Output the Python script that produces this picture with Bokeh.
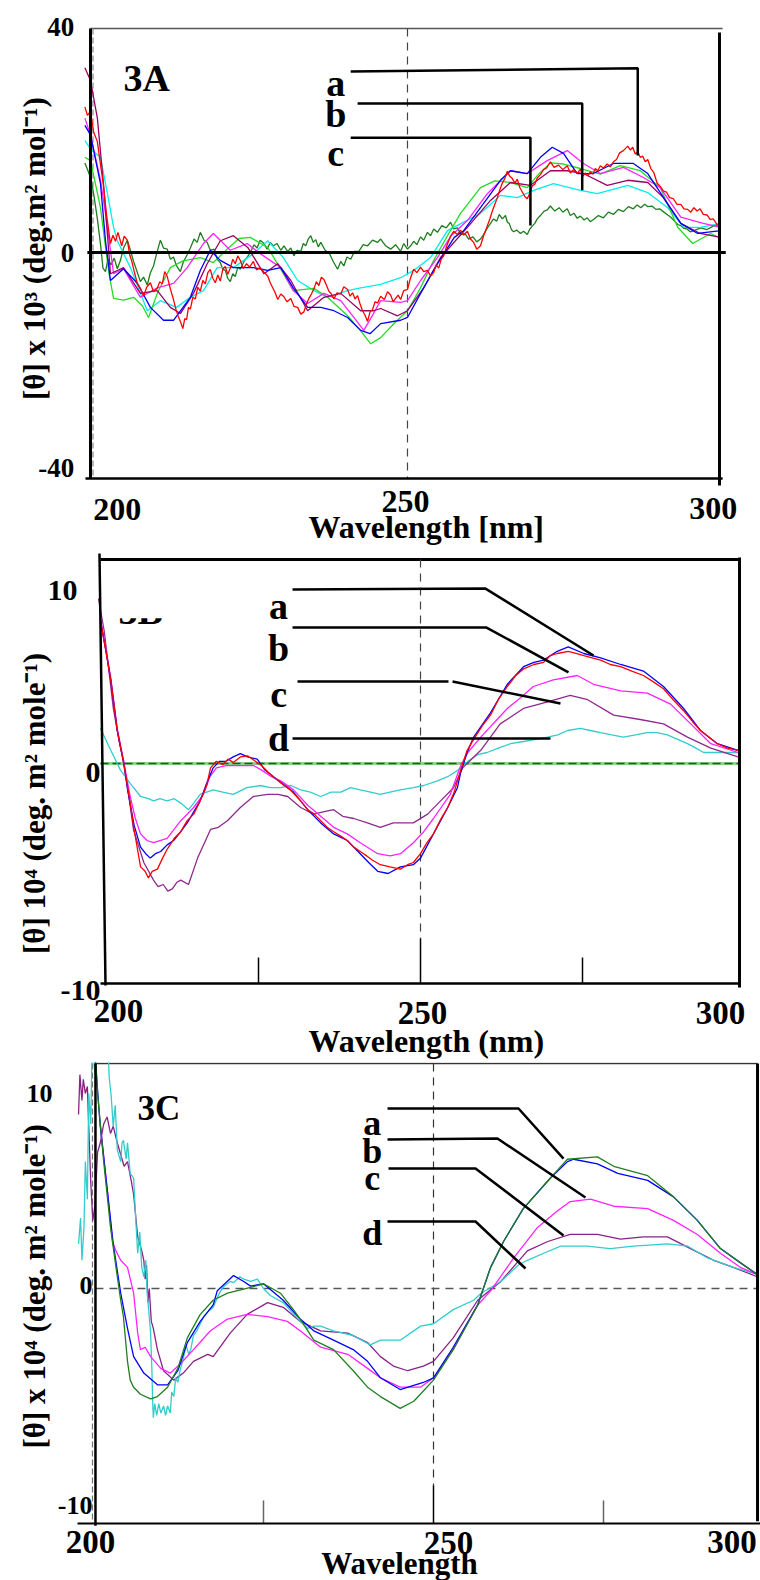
import math
from bokeh.plotting import figure
from bokeh.layouts import column
from bokeh.core.properties import value
from bokeh.embed import file_html
from bokeh.resources import INLINE

FONT = "Liberation Serif"

# ----------------------------------------------------------------- DATA
# Panel 3A : wavelength (nm), [theta] x 10^3
A_red = [(198.3,26.0),(198.7,24.5),(199.2,25.2),(199.7,21.5),(200.3,19.8),(200.7,16.5),(201.2,12.6),(201.8,6.5),(202.4,1.6),(202.8,3.1),(203.2,2.0),(203.6,3.6),(204.2,1.2),(204.6,2.9),(205.1,2.2),(205.5,-0.5),(205.8,-1.5),(206.3,-3.8),(206.7,-5.5),(207.2,-6.4),(207.7,-7.8),(208.2,-6.2),(208.8,-5.4),(209.3,-7.0),(209.9,-6.4),(210.3,-5.2),(210.7,-5.6),(211.1,-3.4),(211.5,-4.3),(212.0,-6.5),(212.5,-8.4),(212.9,-10.2),(213.3,-11.5),(213.7,-12.6),(214.0,-13.6),(214.3,-11.8),(214.6,-12.0),(214.9,-9.8),(215.2,-10.1),(215.6,-8.0),(216.0,-8.3),(216.4,-6.2),(216.8,-6.9),(217.2,-5.0),(217.6,-5.6),(218.0,-3.6),(218.4,-3.0),(218.8,-4.6),(219.2,-5.4),(219.6,-4.0),(220.0,-5.1),(220.4,-3.0),(220.8,-2.5),(221.2,-3.9),(221.6,-2.8),(222.0,-1.2),(222.4,-2.0),(222.8,-0.6),(223.2,-1.4),(223.7,-2.9),(224.2,-2.0),(224.7,-2.6),(225.3,-1.6),(225.8,-3.1),(226.4,-2.7),(227.0,-3.5),(227.6,-4.2),(228.0,-5.4),(228.4,-6.3),(228.8,-7.2),(229.2,-8.4),(229.7,-7.4),(230.2,-7.9),(230.7,-8.8),(231.3,-8.2),(231.8,-9.6),(232.4,-9.8),(232.9,-11.0),(233.4,-10.6),(233.8,-9.2),(234.2,-8.2),(234.6,-7.4),(235.0,-6.5),(235.4,-5.2),(235.8,-5.9),(236.2,-4.4),(236.6,-4.8),(237.0,-5.8),(237.4,-6.9),(237.8,-7.4),(238.2,-8.3),(238.7,-7.2),(239.3,-7.4),(239.8,-6.1),(240.4,-6.6),(240.8,-7.8),(241.2,-7.2),(241.6,-8.3),(242.0,-7.7),(242.4,-9.2),(242.8,-10.4),(243.2,-11.2),(243.6,-12.3),(244.0,-10.6),(244.4,-10.2),(244.8,-8.8),(245.2,-9.0),(245.7,-7.8),(246.3,-8.4),(246.8,-7.0),(247.3,-7.6),(247.7,-8.8),(248.1,-8.2),(248.5,-7.6),(248.9,-8.4),(249.4,-6.8),(250.0,-6.6),(250.5,-4.5),(251.0,-3.0),(251.5,-3.6),(252.1,-2.6),(252.6,-3.4),(253.2,-3.2),(253.7,-4.2),(254.2,-3.6),(254.6,-2.2),(255.0,-2.8),(255.4,-1.2),(255.8,-0.6),(256.3,1.2),(256.9,2.9),(257.4,3.8),(258.0,3.2),(258.5,4.0),(259.0,3.1),(259.6,3.8),(260.1,2.4),(260.6,1.8),(261.1,0.6),(261.7,1.2),(262.2,3.0),(262.8,4.8),(263.2,6.0),(263.6,7.4),(264.0,8.6),(264.4,9.8),(264.8,11.2),(265.2,12.4),(265.6,13.2),(266.0,14.5),(266.4,13.6),(266.8,13.2),(267.2,12.4),(267.6,13.1),(268.0,11.6),(268.4,10.8),(268.8,10.0),(269.2,9.6),(269.6,10.6),(270.0,11.9),(270.4,12.2),(270.8,13.3),(271.3,13.9),(271.8,14.8),(272.3,15.1),(272.9,16.2),(273.5,15.2),(274.2,15.6),(274.9,14.8),(275.6,15.5),(276.1,14.2),(276.6,14.8),(277.2,14.1),(277.7,14.9),(278.1,13.6),(278.5,14.2),(278.9,13.7),(279.3,14.4),(279.7,14.0),(280.1,15.0),(280.5,14.6),(280.9,15.5),(281.4,15.1),(282.0,15.8),(282.5,15.3),(283.0,16.2),(283.5,16.6),(284.0,17.8),(284.6,18.2),(285.3,19.0),(285.7,18.3),(286.1,18.8),(286.5,17.6),(286.9,18.0),(287.3,17.0),(287.7,17.2),(288.1,16.2),(288.5,16.6),(289.0,15.0),(289.5,14.2),(290.0,12.4),(290.5,11.8),(291.0,11.0),(291.5,10.8),(292.0,9.8),(292.6,9.6),(293.2,8.6),(293.8,8.6),(294.3,7.8),(294.9,7.7),(295.4,7.2),(295.9,8.0),(296.4,7.4),(296.9,7.8),(297.4,6.8),(298.0,6.7),(298.5,5.9),(299.0,6.0),(299.6,5.0),(300.2,4.6)]

A_darkgreen = [(198.3,16.0),(198.8,14.6),(199.3,13.0),(199.8,9.8),(200.3,6.0),(200.8,1.5),(201.2,-2.8),(201.6,-3.4),(202.0,-1.2),(202.5,-2.2),(203.0,-1.0),(203.5,-2.9),(204.0,-1.4),(204.5,0.8),(205.1,2.2),(205.6,0.4),(206.1,-1.6),(206.6,-3.2),(207.2,-5.2),(207.7,-4.4),(208.3,-5.8),(208.8,-3.6),(209.3,-2.4),(209.8,-0.2),(210.4,2.2),(210.9,0.8),(211.5,0.6),(212.0,-1.2),(212.5,-0.8),(213.0,-2.4),(213.6,-3.4),(214.1,-1.6),(214.7,-0.4),(215.2,0.8),(215.8,2.4),(216.3,1.8),(216.8,3.6),(217.4,2.2),(217.9,1.8),(218.4,0.4),(219.0,0.6),(219.5,-1.2),(220.0,-1.8),(220.4,-3.0),(220.8,-3.2),(221.2,-4.6),(221.6,-5.2),(222.0,-3.8),(222.4,-4.3),(222.8,-2.6),(223.2,-3.0),(223.8,-1.6),(224.4,-0.7),(224.9,0.2),(225.4,1.4),(225.9,0.8),(226.4,2.2),(227.0,1.6),(227.5,0.6),(228.0,1.8),(228.5,1.2),(229.1,1.6),(229.7,0.4),(230.2,1.2),(230.8,0.2),(231.3,0.8),(231.8,-0.6),(232.3,0.4),(232.9,0.2),(233.3,1.6),(233.7,1.2),(234.1,2.4),(234.5,3.0),(234.9,1.8),(235.3,2.3),(235.7,1.0),(236.1,1.8),(236.8,0.4),(237.5,-0.2),(238.1,-1.6),(238.8,-3.0),(239.3,-1.6),(239.8,-2.4),(240.3,-0.8),(240.9,-1.2),(241.5,0.2),(242.2,0.2),(242.9,1.4),(243.6,1.2),(244.4,2.2),(245.2,1.8),(245.7,2.4),(246.5,1.2),(247.3,0.6),(248.1,1.4),(248.9,0.2),(249.4,1.6),(250.0,0.6),(250.5,1.2),(251.0,2.0),(251.5,1.4),(252.1,2.8),(252.6,2.2),(253.2,3.6),(253.7,3.0),(254.2,4.2),(254.8,3.6),(255.5,4.8),(256.2,4.4),(256.9,5.4),(257.4,4.2),(258.0,4.4),(258.6,3.2),(259.2,3.4),(259.8,2.4),(260.5,2.8),(261.1,1.9),(261.7,2.4),(262.2,3.2),(262.8,4.4),(263.3,5.2),(263.8,6.0),(264.3,5.6),(264.7,6.8),(265.2,6.0),(265.7,6.6),(266.0,5.4),(266.3,5.2),(266.7,4.0),(267.0,3.7),(267.5,4.0),(268.1,3.4),(268.6,3.8),(269.2,3.2),(269.6,4.2),(270.0,4.7),(270.4,5.2),(270.8,6.0),(271.3,6.6),(271.9,7.4),(272.4,7.6),(272.9,8.3),(273.6,7.4),(274.3,8.0),(274.9,7.2),(275.6,7.8),(276.1,6.6),(276.7,7.0),(277.2,6.1),(277.7,6.5),(278.3,5.8),(278.8,6.2),(279.3,5.5),(279.8,5.9),(280.6,6.6),(281.4,6.2),(282.2,7.2),(283.0,6.8),(283.8,7.7),(284.6,7.3),(285.4,8.2),(286.2,7.8),(286.8,8.5),(287.4,8.0),(288.0,8.6),(288.5,8.2),(289.2,8.3),(289.8,7.7),(290.4,7.8),(291.0,7.3),(291.6,6.8),(292.2,6.3),(292.8,5.6),(293.3,5.0),(293.8,4.8),(294.3,4.3),(294.8,4.2),(295.3,3.7),(296.1,4.0),(297.0,4.4),(298.0,4.1),(299.0,4.7),(299.6,4.9),(300.2,5.6)]

A_blue = [(198.3,22.7),(199.2,21.0),(200.8,12.3),(201.6,2.1),(202.4,-5.0),(204.5,-2.9),(206.7,-5.5),(208.8,-9.8),(210.9,-12.1),(212.5,-12.1),(215.2,-8.0),(216.8,-3.2),(218.4,0.4),(220.0,-1.4),(222.1,-2.7),(225.3,-2.7),(227.6,-3.2),(229.7,-2.7),(231.7,-6.3),(234.0,-9.8),(236.1,-9.8),(238.2,-10.4),(240.4,-11.6),(242.5,-13.9),(244.0,-14.5),(245.7,-12.7),(248.9,-12.1),(250.0,-11.6),(252.1,-7.3),(254.8,-2.0),(257.5,2.7),(259.0,3.9),(261.7,8.0),(264.9,12.9),(266.5,14.6),(269.2,14.1),(271.3,17.0),(273.2,18.8),(275.0,17.7),(277.2,14.1),(279.8,14.1),(283.0,15.9),(286.2,15.9),(288.5,14.1),(291.7,8.7),(293.8,5.2),(296.5,3.4),(300.2,3.9)]

A_magenta = [(198.3,24.0),(199.2,21.0),(200.8,12.9),(201.6,7.0),(202.9,-3.8),(204.5,-2.9),(207.2,-8.0),(209.9,-6.3),(212.5,-5.5),(214.7,-2.7),(217.3,1.6),(218.9,3.4),(221.6,0.4),(224.3,1.6),(226.4,-0.2),(229.7,-2.7),(231.7,-6.8),(234.0,-9.1),(236.6,-7.3),(239.3,-8.6),(241.4,-11.6),(243.0,-13.9),(244.5,-11.0),(245.7,-8.6),(248.9,-8.9),(250.0,-8.6),(252.1,-5.0),(254.8,-0.9),(257.0,3.0),(259.6,5.7),(262.8,10.5),(266.5,14.6),(269.2,14.1),(272.4,16.4),(275.6,18.2),(278.2,15.9),(280.9,14.1),(284.6,15.2),(287.8,13.4),(290.5,11.6),(293.8,6.3),(297.4,5.2),(300.2,4.5)]

A_purple = [(198.3,33.0),(199.2,30.7),(200.3,24.0),(201.3,12.0),(202.4,-3.8),(204.5,-2.7),(207.2,-7.3),(209.9,-6.8),(212.0,-9.8),(213.6,-10.9),(215.7,-7.3),(217.9,-2.0),(220.0,2.1),(222.1,3.0),(224.4,0.9),(227.0,-3.8),(229.2,-2.0),(231.3,-5.0),(234.0,-10.4),(236.6,-8.0),(239.3,-7.3),(242.5,-10.4),(244.6,-10.4),(245.7,-10.0),(248.4,-11.3),(250.0,-10.4),(252.6,-6.3),(255.3,-0.9),(259.6,4.5),(263.3,9.3),(266.5,12.5),(269.7,12.0),(272.9,14.6),(275.6,14.6),(278.2,14.1),(282.0,12.0),(285.3,12.9),(288.5,12.5),(291.0,9.8),(293.8,5.2),(296.9,3.4),(300.2,2.7)]

A_cyan = [(198.3,20.0),(199.2,18.5),(200.8,17.0),(202.0,10.0),(202.9,4.5),(203.5,2.1),(205.6,-2.7),(208.3,-10.4),(210.4,-8.6),(213.0,-9.8),(215.2,-8.0),(217.3,-6.8),(219.5,-2.7),(222.1,-2.7),(225.3,-0.2),(227.6,2.1),(230.1,-0.9),(232.4,-5.0),(235.0,-6.8),(237.2,-8.0),(240.4,-6.8),(242.5,-6.3),(245.7,-5.7),(248.9,-4.5),(251.0,-3.2),(253.7,-0.9),(256.4,3.9),(257.4,4.5),(261.7,7.0),(264.9,10.2),(267.6,9.8),(270.2,11.1),(273.4,12.3),(277.7,11.1),(280.4,10.5),(285.3,12.0),(288.5,10.7),(291.7,8.0),(294.3,4.5),(296.9,4.5),(300.2,5.2)]

A_green = [(198.3,17.0),(199.2,16.4),(200.8,8.0),(201.6,1.0),(202.2,-4.0),(202.9,-8.2),(204.5,-8.5),(206.1,-8.0),(207.5,-9.5),(208.5,-11.6),(210.0,-7.0),(212.0,-2.7),(214.0,-1.5),(216.8,-0.9),(218.9,-1.8),(221.0,0.5),(223.0,2.5),(224.8,2.7),(227.6,0.9),(229.7,-3.0),(231.7,-6.8),(235.0,-6.4),(237.2,-8.0),(240.4,-11.3),(242.5,-14.0),(244.1,-16.3),(245.7,-15.2),(248.0,-12.5),(250.0,-10.4),(252.0,-6.5),(254.2,-1.4),(256.4,3.0),(258.5,7.0),(261.7,11.6),(264.0,12.8),(266.5,12.5),(269.2,11.6),(271.0,14.0),(272.9,16.0),(275.0,15.8),(277.7,15.0),(280.9,14.0),(284.1,15.5),(287.3,14.6),(290.5,11.6),(293.3,4.5),(295.7,1.6),(298.6,3.4),(300.2,2.5)]

A_xticks = [200, 250, 300]
A_yticks = [40, 0, -40]

# Panel 3B : wavelength (nm), [theta] x 10^4
B_red = [(200.6,6.5),(201.4,5.2),(202.2,3.8),(203.2,1.5),(204.2,0.0),(205.2,-1.8),(205.8,-3.0),(206.8,-4.7),(207.5,-4.9),(208.0,-5.2),(208.6,-4.9),(209.4,-4.8),(210.2,-4.3),(210.9,-3.9),(212.0,-3.4),(213.0,-3.1),(214.0,-2.6),(215.0,-2.3),(216.0,-1.7),(217.0,-1.0),(217.6,-0.2),(218.5,0.1),(219.5,-0.05),(220.3,0.2),(221.1,0.05),(222.2,0.3),(223.3,0.35),(224.3,0.15),(225.5,-0.1),(226.5,-0.4),(227.3,-0.6),(228.5,-0.9),(229.9,-1.2),(231.2,-1.6),(232.6,-2.1),(233.6,-2.3),(234.6,-2.6),(235.6,-2.9),(236.6,-3.1),(237.7,-3.3),(238.7,-3.5),(239.7,-3.8),(240.7,-4.0),(241.7,-4.2),(242.6,-4.4),(243.8,-4.6),(245.3,-4.7),(246.9,-4.8),(248.0,-4.6),(248.9,-4.5),(250.0,-4.1),(251.0,-3.6),(252.0,-3.2),(253.0,-2.6),(254.2,-2.0),(255.2,-1.3),(256.2,-0.3),(257.2,0.6),(258.2,1.1),(259.5,1.7),(260.8,2.2),(262.0,2.9),(263.4,3.5),(264.7,4.0),(265.9,4.3),(267.5,4.5),(269.0,4.6),(270.0,4.9),(271.1,5.0),(272.8,5.1),(274.0,5.0),(275.2,4.9),(276.5,4.8),(277.8,4.7),(279.3,4.5),(280.9,4.4),(282.6,4.2),(284.4,4.0),(286.0,3.7),(287.5,3.4),(289.0,2.9),(290.6,2.4),(292.0,1.9),(293.2,1.5),(294.5,1.2),(295.8,0.9),(297.4,0.7),(299.0,0.6)]

B_blue = [(200.6,6.5),(201.4,5.2),(202.2,3.8),(203.2,1.5),(204.2,0.0),(204.8,-1.2),(205.8,-2.8),(206.8,-3.8),(207.6,-4.1),(208.3,-4.3),(209.1,-4.1),(209.9,-4.0),(210.9,-3.7),(211.9,-3.5),(213.0,-3.1),(214.0,-2.7),(215.0,-2.2),(216.0,-1.7),(217.0,-0.9),(218.0,-0.2),(219.0,0.1),(220.0,0.1),(221.1,0.3),(222.2,0.45),(223.3,0.3),(224.8,0.2),(226.0,-0.3),(227.3,-0.6),(228.6,-0.9),(230.4,-1.3),(232.6,-2.1),(234.6,-2.7),(236.6,-3.2),(238.7,-3.5),(240.7,-4.1),(242.0,-4.5),(243.4,-4.9),(245.0,-5.0),(246.9,-4.7),(248.9,-4.6),(250.0,-4.3),(252.0,-3.2),(254.2,-2.0),(255.7,-1.1),(256.2,-0.4),(257.2,0.5),(258.2,1.2),(260.8,2.3),(263.4,3.6),(265.9,4.4),(267.5,4.6),(269.0,4.7),(271.1,5.1),(272.8,5.3),(275.2,5.0),(277.8,4.8),(280.9,4.5),(284.4,4.2),(287.5,3.5),(290.6,2.5),(293.2,1.5),(295.8,0.9),(299.0,0.6)]

B_magenta = [(200.6,6.6),(201.4,5.3),(202.2,3.9),(203.2,1.6),(204.2,0.1),(205.2,-1.5),(206.0,-2.5),(206.8,-3.2),(207.8,-3.5),(208.8,-3.6),(210.9,-3.4),(213.0,-2.6),(215.0,-2.0),(216.5,-1.4),(217.5,-0.6),(218.5,-0.2),(220.0,-0.1),(222.0,-0.1),(224.3,-0.1),(225.5,-0.3),(227.0,-0.6),(228.5,-0.8),(230.4,-1.2),(232.6,-1.9),(234.6,-2.4),(236.6,-2.9),(238.7,-3.2),(240.7,-3.6),(243.4,-4.1),(245.3,-4.2),(246.9,-4.1),(248.9,-3.6),(250.5,-3.1),(252.0,-2.5),(254.6,-1.4),(256.2,-0.1),(257.3,0.5),(259.3,1.2),(261.5,1.9),(263.4,2.5),(265.5,3.0),(267.4,3.5),(270.5,3.8),(274.2,4.0),(276.7,3.6),(280.9,3.3),(285.0,3.2),(288.6,2.7),(291.7,1.8),(294.8,0.9),(299.0,0.5)]

B_purple = [(200.3,7.5),(201.2,6.0),(202.6,2.5),(203.5,1.0),(204.2,0.1),(205.0,-1.5),(205.7,-3.0),(207.3,-4.5),(208.8,-5.3),(209.5,-5.6),(210.3,-5.5),(211.0,-5.8),(211.7,-5.7),(212.4,-5.4),(213.0,-5.3),(214.2,-5.5),(215.6,-4.3),(217.6,-3.0),(218.8,-2.9),(220.2,-2.6),(222.2,-2.0),(224.2,-1.5),(226.4,-1.4),(228.0,-1.4),(229.5,-1.5),(231.5,-2.0),(233.5,-2.3),(235.0,-2.2),(236.6,-2.1),(238.0,-2.4),(239.7,-2.5),(241.8,-2.7),(243.8,-2.9),(245.8,-2.7),(248.9,-2.7),(251.1,-2.3),(253.1,-1.7),(255.1,-1.1),(256.5,-0.2),(259.3,0.6),(262.3,1.8),(265.9,2.5),(269.6,2.8),(273.1,3.1),(275.8,2.9),(279.8,2.2),(283.9,2.0),(287.5,1.8),(291.2,1.2),(294.8,0.7),(299.0,0.3)]

B_cyan = [(200.6,1.6),(201.4,1.1),(202.2,0.6),(203.7,-0.3),(205.2,-0.9),(206.8,-1.5),(208.0,-1.6),(208.8,-1.7),(209.8,-1.6),(210.9,-1.7),(212.0,-1.6),(213.0,-1.8),(214.2,-2.1),(215.0,-1.8),(216.0,-1.4),(218.0,-1.2),(219.5,-1.3),(221.1,-1.4),(223.2,-1.1),(225.3,-1.0),(226.8,-1.1),(228.4,-1.1),(230.0,-1.0),(231.5,-1.2),(233.0,-1.3),(234.6,-1.5),(236.2,-1.3),(237.7,-1.3),(239.2,-1.1),(240.7,-1.2),(242.3,-1.3),(243.8,-1.4),(245.3,-1.3),(246.9,-1.2),(248.9,-1.1),(250.5,-1.0),(252.5,-0.8),(254.2,-0.6),(255.8,-0.3),(257.3,0.1),(258.8,0.4),(260.3,0.5),(262.0,0.7),(263.9,0.9),(265.9,1.0),(267.8,1.1),(269.6,1.2),(271.2,1.3),(272.7,1.5),(274.7,1.6),(276.2,1.5),(277.8,1.4),(279.5,1.3),(281.3,1.2),(283.2,1.3),(285.0,1.4),(286.5,1.4),(288.1,1.3),(289.7,1.1),(291.2,0.9),(292.5,0.7),(293.7,0.5),(295.2,0.5),(296.8,0.5),(299.0,0.5)]

B_xticks = [200, 250, 300]
B_yticks = [10, 0, -10]
B_minor = [225, 250, 275]

# Panel 3C : wavelength (nm), [theta] x 10^4
C_green = [(200.0,11.5),(200.6,8.3),(201.5,5.4),(202.5,2.6),(203.5,0.5),(204.0,-0.5),(204.4,-1.2),(205.0,-3.1),(205.4,-3.9),(205.9,-4.2),(206.9,-4.5),(208.4,-4.7),(209.4,-4.6),(210.9,-4.2),(212.4,-3.4),(213.8,-2.1),(215.7,-1.1),(217.6,-0.5),(219.7,-0.2),(223.1,0.05),(225.0,0.2),(227.5,-0.2),(229.4,-0.9),(230.4,-1.3),(232.4,-2.2),(235.3,-2.6),(238.2,-3.5),(240.3,-4.2),(242.2,-4.6),(245.1,-5.1),(247.1,-4.8),(250.0,-3.9),(252.9,-2.6),(256.5,-0.7),(258.4,0.9),(260.3,2.0),(263.2,3.4),(267.2,4.7),(269.7,5.5),(274.1,5.6),(276.5,5.2),(281.5,4.8),(285.3,3.9),(288.8,2.9),(292.2,1.7),(295.1,1.1),(297.6,0.6)]

C_blue = [(199.8,11.5),(201.0,6.9),(202.1,4.0),(202.9,1.9),(204.0,-0.2),(205.0,-1.7),(205.9,-2.9),(207.4,-3.6),(209.4,-4.1),(210.9,-4.1),(212.4,-3.5),(213.8,-2.3),(215.7,-1.4),(217.6,-0.7),(218.2,-0.1),(220.6,0.55),(222.1,0.3),(223.1,0.1),(225.0,0.2),(227.9,-0.5),(230.4,-1.3),(232.4,-1.8),(235.3,-2.2),(238.2,-2.6),(240.3,-3.1),(242.2,-3.8),(245.1,-4.3),(248.5,-4.0),(250.0,-3.8),(252.9,-2.5),(256.5,-0.7),(258.4,0.9),(260.3,2.0),(263.2,3.4),(267.2,4.7),(269.7,5.4),(270.6,5.5),(274.1,5.3),(277.1,4.9),(281.5,4.6),(285.3,3.9),(288.8,2.9),(292.2,1.7),(295.1,1.1),(297.6,0.6)]

C_magenta = [(201.0,7.0),(202.1,4.0),(202.8,2.0),(203.3,1.6),(204.0,1.2),(205.0,0.9),(205.9,-0.2),(206.5,-1.9),(206.9,-2.6),(207.6,-2.5),(208.4,-2.9),(209.9,-3.4),(211.3,-3.6),(212.8,-3.2),(214.7,-2.6),(217.2,-1.8),(219.7,-1.3),(222.6,-1.1),(225.6,-1.2),(228.5,-1.4),(230.4,-1.8),(233.4,-2.5),(237.4,-2.8),(240.3,-3.4),(242.2,-3.8),(245.1,-4.2),(248.1,-4.2),(250.0,-3.8),(252.9,-2.6),(256.5,-0.7),(258.4,-0.1),(261.8,1.3),(265.3,2.6),(268.2,3.3),(270.1,3.7),(273.1,3.8),(276.5,3.5),(281.5,3.4),(285.3,2.9),(288.8,2.3),(292.2,1.5),(295.1,0.9),(297.6,0.6)]

C_purple = [(197.8,7.4),(198.0,9.1),(198.3,8.0),(198.5,8.9),(198.8,8.3),(199.1,8.6),(199.3,6.9),(199.6,4.5),(199.9,2.9),(200.2,3.5),(200.6,5.8),(201.0,6.2),(201.5,7.0),(202.0,7.3),(202.5,6.6),(202.9,6.9),(203.5,6.2),(204.0,5.7),(204.5,5.2),(205.0,5.4),(205.6,4.5),(205.9,4.0),(206.3,2.8),(206.5,2.2),(207.1,1.6),(207.4,1.2),(207.6,0.4),(207.8,1.0),(208.0,-0.6),(208.2,0.0),(208.5,-1.4),(208.8,-1.7),(209.4,-2.6),(210.3,-3.5),(211.8,-3.9),(213.2,-3.6),(214.7,-3.1),(216.8,-2.8),(217.6,-2.9),(220.1,-1.9),(222.6,-1.1),(225.6,-0.6),(227.9,-0.8),(230.4,-1.4),(233.4,-1.8),(237.4,-1.9),(240.3,-2.3),(242.2,-2.9),(244.1,-3.3),(246.2,-3.5),(248.5,-3.3),(250.0,-3.1),(252.9,-2.1),(256.5,-0.5),(259.9,0.3),(263.8,1.6),(266.8,2.0),(270.1,2.3),(274.1,2.3),(277.5,2.1),(280.9,2.2),(284.4,2.2),(287.8,1.7),(291.2,1.2),(294.1,0.9),(297.6,0.5)]

C_cyan = [(197.8,1.9),(198.1,3.0),(198.3,1.2),(198.6,2.6),(198.8,5.4),(199.1,3.8),(199.3,8.3),(199.6,7.0),(199.8,10.5),(200.2,9.2),(200.5,11.0),(200.8,10.2),(201.2,12.0),(201.6,10.6),(202.0,11.4),(202.3,9.0),(202.6,8.2),(202.9,6.9),(203.2,7.8),(203.5,5.9),(204.0,5.4),(204.2,6.2),(204.4,6.3),(204.8,5.5),(205.0,6.2),(205.4,4.9),(205.9,4.7),(206.2,3.0),(206.5,1.5),(206.8,2.4),(207.1,0.9),(207.4,0.5),(207.7,1.2),(207.9,-0.2),(208.2,-1.2),(208.4,-1.9),(208.6,-3.6),(208.7,-4.8),(208.8,-5.5),(209.0,-4.9),(209.3,-5.4),(209.6,-4.9),(209.9,-5.3),(210.3,-5.0),(210.6,-5.4),(210.9,-5.0),(211.3,-5.3),(211.5,-4.4),(211.8,-4.6),(212.1,-3.8),(212.4,-4.0),(212.8,-3.4),(213.2,-3.0),(213.6,-2.4),(214.0,-2.8),(214.3,-2.6),(214.7,-2.0),(215.2,-1.8),(215.7,-1.5),(216.2,-1.2),(216.8,-1.0),(217.6,-0.8),(218.5,-0.2),(219.2,0.1),(220.1,0.3),(220.6,0.25),(221.5,0.5),(222.1,0.4),(223.1,0.3),(224.1,0.4),(225.0,0.0),(226.0,-0.3),(227.9,-0.6),(230.4,-1.4),(231.5,-1.7),(232.4,-1.6),(233.4,-1.6),(235.3,-1.8),(238.2,-2.0),(240.7,-2.4),(242.2,-2.2),(245.1,-2.2),(248.1,-1.6),(250.0,-1.5),(252.9,-0.9),(255.9,-0.5),(257.0,-0.2),(259.9,0.3),(262.5,1.0),(263.8,1.2),(266.2,1.5),(268.7,1.8),(272.6,1.8),(276.0,1.7),(279.4,1.8),(284.4,1.9),(287.4,1.8),(290.3,1.3),(294.1,0.9),(297.6,0.6)]

C_xticks = [200, 250, 300]
C_yticks = [10, 0, -10]
C_minor = [225, 250, 275]

# ------------------------------------------------------------ HELPERS
def make(height, xr, yr):
    p = figure(width=760, height=height, x_range=xr, y_range=yr,
               output_backend="svg", toolbar_location=None,
               x_axis_location=None, y_axis_location=None, min_border=0)
    p.grid.visible = False
    p.outline_line_color = None
    p.background_fill_color = "white"
    p.border_fill_color = "white"
    return p


def curve(p, pts, color, width=1.3):
    p.line([a for a, b in pts], [b for a, b in pts], line_color=color, line_width=width)


def txt(p, x, y, s, size, align="center", baseline="middle", angle=0.0):
    p.text(x=[x], y=[y], text=[s], text_font=value(FONT), text_font_size=value(f"{size}px"),
           text_font_style="bold", text_align=align, text_baseline=baseline,
           angle=angle, text_color="black")


def seg(p, xs, ys, color="black", width=2.5, dash="solid"):
    p.line(xs, ys, line_color=color, line_width=width, line_dash=dash)


# ------------------------------------------------------------ PANEL A
pA = make(545, (184.777, 306.572), (-52.32, 45.0))
seg(pA, [199.2, 300.5], [40, 40], "#555555", 1.5)
seg(pA, [250, 250], [40, -40.36], "#444444", 1.2, "8 6")
seg(pA, [199.6, 199.6], [40, -40.36], "#888888", 1.2, "6 3")
for pts, col in [(A_darkgreen, "#1e7d1e"), (A_cyan, "#00eeee"), (A_green, "#22dd22"),
                 (A_magenta, "#ff22ff"), (A_purple, "#990066"), (A_blue, "#0000ff"),
                 (A_red, "#ff0000")]:
    curve(pA, pts, col)
seg(pA, [199.2, 199.2], [40, -40.36], "black", 3)
seg(pA, [198.7, 301.0], [0, 0], "black", 3)
seg(pA, [198.4, 300.5], [-40.36, -40.36], "black", 2.5)
seg(pA, [300, 300], [39.3, -41.6], "black", 3)
A_leaders = {"a": ([240.9, 286.9, 286.9], [32.3, 32.9, 17.3]),
             "b": ([242.0, 278.0, 278.0], [26.6, 26.6, 11.1]),
             "c": ([240.9, 269.7, 269.7], [20.5, 20.5, 4.8])}
A_letter_y = {"a": 30.2, "b": 24.8, "c": 17.7}
for k, (xs, ys) in A_leaders.items():
    seg(pA, xs, ys, "black", 2.5)
    txt(pA, 238.5, A_letter_y[k], k, 38, "center", "alphabetic")
txt(pA, 204.5, 31.25, "3A", 38, "left", "alphabetic")
for t, dx, y in zip(A_xticks, [3.5, -0.3, -1.0], [-45.9, -44.5, -45.7]):
    txt(pA, t + dx, y, str(t), 32)
for t, dy in zip(A_yticks, [0.3, 0.0, 1.6]):
    txt(pA, 196.6, t + dy, str(t), 27, "right")
txt(pA, 253.0, -49.0, "Wavelength [nm]", 32)
txt(pA, 190.2, 0.7, "[\u03b8] x 10\u00b3 (deg.m\u00b2 mol\u207b\u00b9)", 31, angle=math.pi / 2)

# ------------------------------------------------------------ PANEL B  (canvas rows 545..1062)
pB = make(517, (185.185, 302.469), (-13.591, 9.909))
seg(pB, [200.62, 299.23], [9.27, 9.27], "black", 3)
seg(pB, [250, 250], [9.27, -7.95], "#444444", 1.2, "8 6")
seg(pB, [250, 250], [-7.95, -10], "black", 1.5)
for t in [B_minor[0], B_minor[2]]:
    seg(pB, [t, t], [-8.82, -10], "black", 1.5)
seg(pB, [200.62, 299.23], [0, 0], "#8fcf8f", 3)
seg(pB, [200.62, 299.23], [0, 0], "#1b5e20", 1.5, "8 4")
for pts, col in [(B_cyan, "#33cccc"), (B_purple, "#8e2a8e"), (B_magenta, "#ff22ff"),
                 (B_blue, "#0000ff"), (B_red, "#ff0000")]:
    curve(pB, pts, col)
seg(pB, [200.46, 201.39], [9.55, -10.09], "black", 2.5)
seg(pB, [200.62, 299.23], [-10, -10], "black", 2.5)
seg(pB, [299.23, 299.23], [9.36, -10.18], "black", 3)
B_leaders = {"a": ([230.25, 260.03, 276.70], [7.91, 7.95, 4.91]),
             "b": ([230.25, 260.19, 272.84], [6.18, 6.18, 4.14]),
             "c": ([231.02, 254.32], [3.73, 3.73]),
             "c2": ([254.94, 271.60], [3.73, 2.73]),
             "d": ([230.25, 270.06], [1.14, 1.14])}
B_letter_y = {"a": 7.18, "b": 5.23, "c": 3.18, "d": 1.14}
for k, (xs, ys) in B_leaders.items():
    seg(pB, xs, ys, "black", 2.5)
for k, y in B_letter_y.items():
    txt(pB, 228.1, y, k, 38, "center", "alphabetic")
txt(pB, 203.4, 6.95, "3B", 38, "left", "alphabetic")
pB.quad(left=[202.6], right=[212.0], top=[7.5], bottom=[6.6], fill_color="white", line_color=None)
for t, dx, y in zip(B_xticks, [3.4, 0.3, -3.7], [-11.23, -11.36, -11.36]):
    txt(pB, t + dx, y, str(t), 33)
for t, x, dy in zip(B_yticks, [197.07, 200.62, 200.62], [-2.14, -0.41, -0.32]):
    txt(pB, x, t + dy, str(t), 30, "right")
txt(pB, 250.9, -12.6, "Wavelength (nm)", 32)
txt(pB, 190.4, -1.82, "[\u03b8] 10\u2074 (deg. m\u00b2 mole\u207b\u00b9)", 31, angle=math.pi / 2)

# ------------------------------------------------------------ PANEL C  (canvas rows 1062..1580)
pC = make(518, (186.324, 298.088), (-12.426, 9.617))
C_top = 9.57
seg(pC, [200.29, 297.65], [C_top, C_top], "#333333", 1.5)
seg(pC, [250, 250], [C_top, -8.38], "#333333", 1.2, "8 6")
seg(pC, [250, 250], [-8.38, -10], "black", 1.5)
for t in [C_minor[0], C_minor[2]]:
    seg(pC, [t, t], [-9.02, -10], "#666666", 1.5)
seg(pC, [200.29, 297.65], [0, 0], "#555555", 1.5, "8 6")
seg(pC, [199.85, 199.85], [C_top, -10], "#777777", 1.2, "6 3")
for pts, col in [(C_purple, "#882288"), (C_cyan, "#33cccc"), (C_magenta, "#ff22ff"),
                 (C_blue, "#0000ff"), (C_green, "#1f7f1f")]:
    curve(pC, pts, col)
seg(pC, [200.29, 200.29], [C_top, -10.1], "black", 2.5)
seg(pC, [197.65, 298.1], [-10, -10], "black", 2)
seg(pC, [297.65, 297.65], [C_top, -9.9], "black", 3)
C_leaders = {"a": ([243.24, 262.5, 269.12], [7.66, 7.66, 5.53]),
             "b": ([243.24, 259.41, 272.35], [6.34, 6.38, 3.87]),
             "c": ([243.38, 256.18, 269.12], [5.11, 5.11, 2.26]),
             "d": ([243.24, 256.18, 263.53], [2.85, 2.85, 0.85])}
C_letter_y = {"a": 7.06, "b": 5.87, "c": 4.72, "d": 2.38}
for k, (xs, ys) in C_leaders.items():
    seg(pC, xs, ys, "black", 2.5)
    txt(pC, 241.0, C_letter_y[k], k, 36, "center", "alphabetic")
txt(pC, 206.47, 7.66, "3C", 35, "left", "alphabetic")
for t, dx, y in zip(C_xticks, [-0.44, 2.2, -6.1], [-10.77, -10.85, -10.77]):
    txt(pC, t + dx, y, str(t), 33)
for t, x, dy in zip(C_yticks, [193.97, 199.85, 199.85], [-1.70, 0.13, 0.77]):
    txt(pC, x, t + dy, str(t), 26, "right")
txt(pC, 245.0, -11.72, "Wavelength", 31, "center", "alphabetic")
txt(pC, 191.3, 0.09, "[\u03b8] x 10\u2074 (deg. m\u00b2 mole\u207b\u00b9)", 31, angle=math.pi / 2)

layout = column(pA, pB, pC, spacing=0)
open("out.html", "w").write(file_html(layout, INLINE))
